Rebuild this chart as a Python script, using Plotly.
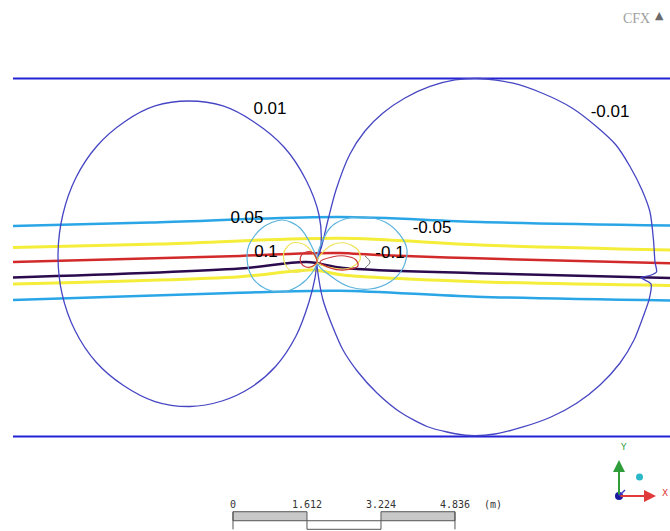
import plotly.graph_objects as go

# ---- geometry (metres), origin at the dipole centre ----
wall_x = [-6.645, 7.70]
wall_top_y = 3.954
wall_bot_y = -3.845

# closed +0.01 contour (left lobe)
c001_pos_x = [-0.022, 0.065, 0.022, -0.261, -0.741, -1.394, -2.070, -2.810, -3.551, -4.205, -4.815,
              -5.272, -5.556, -5.664, -5.577, -5.294, -4.837, -4.237, -3.551, -2.789, -2.092, -1.481,
              -0.915, -0.479, -0.196, -0.065, -0.022]
c001_pos_y = [-0.044, 0.327, 0.980, 1.743, 2.462, 3.007, 3.355, 3.464, 3.355, 3.017, 2.484,
              1.797, 1.002, 0.131, -0.732, -1.536, -2.222, -2.734, -3.083, -3.192, -3.072, -2.789,
              -2.309, -1.656, -0.915, -0.392, -0.044]

# closed -0.01 contour (right lobe)
c001_neg_x = [-0.022, 0.087, 0.218, 0.392, 0.697, 1.024, 1.416, 1.895, 2.440, 2.985, 3.529, 4.227,
              4.902, 5.534, 6.078, 6.492, 6.797, 7.059, 7.233, 7.309, 7.342, 7.375, 7.233, 7.037,
              7.255, 7.211, 7.081, 6.885, 6.580, 6.144, 5.643, 5.076, 4.466, 3.856, 3.312, 2.810,
              2.375, 1.786, 1.285, 0.871, 0.545, 0.305, 0.109, 0.022, -0.022]
c001_neg_y = [-0.044, 0.327, 0.871, 1.525, 2.309, 2.810, 3.203, 3.529, 3.780, 3.922, 3.954, 3.856,
              3.627, 3.312, 2.898, 2.505, 2.037, 1.525, 1.046, 0.436, -0.044, -0.261, -0.338, -0.381,
              -0.523, -0.871, -1.242, -1.743, -2.244, -2.723, -3.115, -3.420, -3.638, -3.791, -3.824,
              -3.747, -3.627, -3.312, -2.898, -2.440, -1.961, -1.416, -0.871, -0.436, -0.044]

# closed +/- 0.05 contours
c005_pos_x = [-0.022, -0.392, -0.784, -1.220, -1.503, -1.547, -1.438, -1.133, -0.763, -0.392, -0.131, -0.022]
c005_pos_y = [-0.044, 0.697, 0.871, 0.697, 0.327, 0.044, -0.370, -0.632, -0.697, -0.545, -0.283, -0.044]

c005_neg_x = [-0.022, 0.261, 0.588, 0.980, 1.460, 1.786, 1.939, 1.852, 1.569, 1.133, 0.697, 0.305, -0.022]
c005_neg_y = [-0.044, 0.697, 0.893, 0.937, 0.828, 0.545, 0.218, -0.174, -0.479, -0.632, -0.588, -0.370, -0.044]

# inner loops around the centre
loop_y_pos_x = [-0.022, -0.283, -0.566, -0.741, -0.719, -0.545, -0.240, -0.022]
loop_y_pos_y = [-0.044, 0.327, 0.370, 0.174, -0.087, -0.261, -0.218, -0.044]
loop_y_neg_x = [-0.022, 0.261, 0.588, 0.871, 0.915, 0.697, 0.327, -0.022]
loop_y_neg_y = [-0.044, 0.305, 0.370, 0.218, 0.0, -0.174, -0.174, -0.044]

loop_r_pos_x = [-0.022, -0.109, -0.261, -0.370, -0.370, -0.261, -0.109, -0.022]
loop_r_pos_y = [-0.044, 0.153, 0.174, 0.087, -0.065, -0.153, -0.131, -0.044]
loop_r_neg_x = [0.044, 0.305, 0.588, 0.828, 0.871, 0.588, 0.261, 0.044]
loop_r_neg_y = [-0.044, 0.065, 0.087, 0.0, -0.131, -0.218, -0.174, -0.044]

arc_gray_x = [1.024, 1.133, 1.024]
arc_gray_y = [0.087, -0.044, -0.174]

# streamwise lines across the channel
lb_top_x = [-6.645, -3.660, 0.479, 3.529, 7.70]
lb_top_y = [0.741, 0.817, 0.937, 0.828, 0.752]
ye_top_x = [-6.645, -3.442, 0.479, 3.529, 7.70]
ye_top_y = [0.272, 0.349, 0.473, 0.327, 0.218]
red_x = [-6.645, -1.699, -0.392, 0.479, 1.285, 3.464, 7.70]
red_y = [-0.044, 0.087, 0.142, 0.153, 0.109, 0.036, -0.072]
dark_x = [-6.645, -1.699, -0.246, 0.551, 3.458, 7.70]
dark_y = [-0.381, -0.185, -0.044, -0.174, -0.290, -0.392]
ye_bot_x = [-6.645, -1.699, -0.109, 0.545, 3.458, 7.70]
ye_bot_y = [-0.523, -0.364, -0.218, -0.327, -0.473, -0.556]
lb_bot_x = [-6.645, -1.699, 0.479, 3.458, 7.70]
lb_bot_y = [-0.871, -0.712, -0.669, -0.800, -0.882]

# contour labels
label_text = ["0.01", "-0.01", "0.05", "-0.05", "0.1", "-0.1"]
label_x = [-1.046, 6.362, -1.547, 2.484, -1.133, 1.569]
label_y = [3.280, 3.215, 0.905, 0.690, 0.165, 0.140]

# scale bar (m)
scale_ticks = [0, 1.612, 3.224, 4.836]
scale_labels = ["0", "1.612", "3.224", "4.836"]

fig = go.Figure()


def add_line(x, y, color, width, smooth=0.9):
    fig.add_trace(go.Scatter(
        x=x, y=y, mode="lines",
        line=dict(color=color, width=width, shape="spline", smoothing=smooth),
        hoverinfo="skip", showlegend=False))


# channel walls
WALL = "#2323d6"
add_line(wall_x, [wall_top_y, wall_top_y], WALL, 2)
add_line(wall_x, [wall_bot_y, wall_bot_y], WALL, 2)

# streamwise bands
add_line(lb_top_x, lb_top_y, "#2aa6e6", 2.5)
add_line(lb_bot_x, lb_bot_y, "#2aa6e6", 2.5)
add_line(ye_top_x, ye_top_y, "#f4ee3a", 3)
add_line(ye_bot_x, ye_bot_y, "#f4ee3a", 3)
add_line(red_x, red_y, "#d22a2a", 2.5)
add_line(dark_x, dark_y, "#2b0b4e", 2.5)

# dipole contours
add_line(c001_pos_x, c001_pos_y, "#4646c4", 1.3, 1.0)
add_line(c001_neg_x, c001_neg_y, "#4646c4", 1.3, 0.7)
add_line(c005_pos_x, c005_pos_y, "#5ab2dc", 1.2, 0.9)
add_line(c005_neg_x, c005_neg_y, "#5ab2dc", 1.2, 0.9)
add_line(loop_y_pos_x, loop_y_pos_y, "#efe35a", 1.2)
add_line(loop_y_neg_x, loop_y_neg_y, "#efe35a", 1.2)
add_line(loop_r_pos_x, loop_r_pos_y, "#cc3535", 1.2)
add_line(loop_r_neg_x, loop_r_neg_y, "#cc3535", 1.2)
add_line(arc_gray_x, arc_gray_y, "#707070", 1.0)

fig.add_trace(go.Scatter(
    x=label_x, y=label_y, mode="text", text=label_text,
    textfont=dict(family="Liberation Sans, Arial, sans-serif", size=17, color="black"),
    hoverinfo="skip", showlegend=False))

# scale bar below the domain
SB_X0 = -1.852
SB_TOP, SB_MID, SB_BOT = -5.484, -5.680, -5.867
shapes = []
for i in range(len(scale_ticks) - 1):
    a, b = SB_X0 + scale_ticks[i], SB_X0 + scale_ticks[i + 1]
    if i % 2 == 0:
        shapes.append(dict(type="rect", xref="x", yref="y", x0=a, x1=b, y0=SB_MID, y1=SB_TOP,
                           fillcolor="#c8c8c8", line=dict(color="#555555", width=1)))
    else:
        shapes.append(dict(type="rect", xref="x", yref="y", x0=a, x1=b, y0=SB_BOT, y1=SB_MID,
                           fillcolor="white", line=dict(color="#555555", width=1)))
for t in (scale_ticks[0], scale_ticks[-1]):
    shapes.append(dict(type="line", xref="x", yref="y", x0=SB_X0 + t, x1=SB_X0 + t,
                       y0=SB_BOT, y1=SB_TOP, line=dict(color="#555555", width=1)))

annotations = []
for t, lab in zip(scale_ticks, scale_labels):
    annotations.append(dict(x=SB_X0 + t, y=-5.316, xref="x", yref="y", text=lab, showarrow=False,
                            font=dict(family="DejaVu Sans Mono, monospace", size=10, color="#333333")))
annotations.append(dict(x=SB_X0 + scale_ticks[-1] + 0.83, y=-5.316, xref="x", yref="y", text="(m)",
                        showarrow=False,
                        font=dict(family="DejaVu Sans Mono, monospace", size=10, color="#333333")))

# coordinate triad and logo (pixel-placed, paper coords)
W, H = 670, 531


def px(xp):
    return xp / W


def py(yp):
    return 1 - yp / H


def label(xp, yp, text, size, color, family="DejaVu Sans, sans-serif"):
    return dict(x=px(xp), y=py(yp), xref="paper", yref="paper", text=text, showarrow=False,
                xanchor="center", yanchor="middle",
                font=dict(family=family, size=size, color=color))


annotations += [
    dict(x=px(619), y=py(460), xref="paper", yref="paper", ax=0, ay=36, text="", showarrow=True,
         arrowhead=2, arrowsize=1.2, arrowwidth=2, arrowcolor="#2f9e3a"),
    dict(x=px(656), y=py(496), xref="paper", yref="paper", ax=-37, ay=0, text="", showarrow=True,
         arrowhead=2, arrowsize=1.2, arrowwidth=2, arrowcolor="#e03a3a"),
    label(623, 447, "Y", 9, "#2f9e3a"),
    label(665, 493, "X", 9, "#e03a3a"),
    label(636, 18, "CFX", 14, "#a0a0a0", "Liberation Serif, Times New Roman, serif"),
    label(659, 16, "&#9650;", 11, "#6a6a6a"),
]
shapes += [
    dict(type="circle", xref="paper", yref="paper", x0=px(615), x1=px(623), y0=py(500), y1=py(492),
         fillcolor="#1a1aa0", line=dict(width=0)),
    dict(type="line", xref="paper", yref="paper", x0=px(619), x1=px(625), y0=py(496), y1=py(490),
         line=dict(color="#3a3ad0", width=1.5)),
    dict(type="circle", xref="paper", yref="paper", x0=px(636), x1=px(643), y0=py(480.5), y1=py(473.5),
         fillcolor="#2ab8c8", line=dict(width=0)),
]

fig.update_layout(
    width=W, height=H, autosize=False,
    margin=dict(l=0, r=0, t=0, b=0),
    paper_bgcolor="white", plot_bgcolor="white",
    xaxis=dict(range=[-6.928, 7.669], visible=False, fixedrange=True),
    yaxis=dict(range=[-5.904, 5.664], visible=False, fixedrange=True),
    shapes=shapes, annotations=annotations,
    showlegend=False,
)

fig.write_html("out.html", config={"displayModeBar": False})
